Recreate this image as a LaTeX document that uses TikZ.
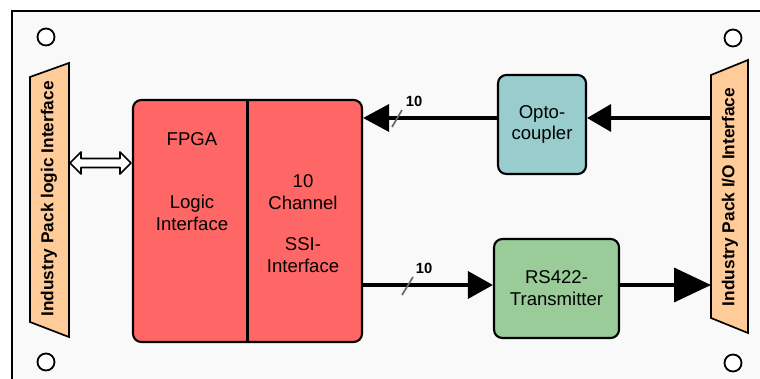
\documentclass[tikz,border=0pt]{standalone}
\usepackage{fontspec}
\setmainfont{Liberation Sans}
\usetikzlibrary{arrows.meta,calc}

\definecolor{fpgared}{HTML}{FF6666}
\definecolor{optoblue}{HTML}{99CCCC}
\definecolor{rsgreen}{HTML}{99CC99}
\definecolor{ifpeach}{HTML}{FFCC99}
\definecolor{boardgray}{HTML}{F9F9F9}

\tikzset{
  block/.style={draw=black,line width=1.5pt,rounded corners=6pt,inner sep=0pt},
  blocktext/.style={align=center,font=\fontsize{13.2}{15.5}\selectfont},
  sidetext/.style={rotate=90,font=\fontsize{12.3}{14}\selectfont\bfseries},
  bus/.style={line width=2.5pt},
  hole/.style={draw=black,line width=1.3pt,fill=white},
  buswidth/.style={font=\fontsize{10.5}{12}\selectfont\bfseries,inner sep=1pt},
  slash/.style={draw=black!60,line width=1.2pt}
}

\begin{document}
\begin{tikzpicture}[x=0.025cm,y=-0.025cm]

\useasboundingbox (0,0) rectangle (760,379);
\clip (0,0) rectangle (760,379);

% board
\fill[white] (0,0) rectangle (760,379);
\draw[draw=black,line width=1.4pt,fill=boardgray] (12,11) rectangle (800,420);

\draw[hole] (46,37) circle (8.5);
\draw[hole] (46,362) circle (8.5);
\draw[hole] (733,38) circle (8.5);
\draw[hole] (733,363) circle (8.5);

% interfaces
\draw[draw=black,line width=1.2pt,fill=ifpeach] (30,77) -- (69,63) -- (69,337) -- (30,322) -- cycle;
\draw[draw=black,line width=1.2pt,fill=ifpeach] (711,75) -- (748,60) -- (748,333) -- (711,318) -- cycle;
\node[sidetext] (logicif) at (49,199) {Industry Pack logic Interface};
\node[sidetext] (ioif) at (730,197) {Industry Pack I/O Interface};
\coordinate (ioedge) at (711,118);
\coordinate (ioin) at (711,285);

% blocks
\node[block,fill=fpgared,minimum width=5.725cm,minimum height=6.05cm] (fpga) at (247.5,221) {};
\draw[line width=1.5pt] (fpga.north) -- (fpga.south);
\node[block,fill=optoblue,minimum width=2.2cm,minimum height=2.475cm] (opto) at (542,124.5) {};
\node[block,fill=rsgreen,minimum width=3.125cm,minimum height=2.475cm] (rs) at (556.5,288.5) {};

\node[blocktext] (fpgatitle) at (192,139) {FPGA};
\node[blocktext] (logictext) at (192,213) {Logic\\Interface};
\node[blocktext] (chantext) at (303,192) {10\\Channel};
\node[blocktext] (ssitext) at (303,255) {SSI-\\Interface};
\node[blocktext] (optotext) at (opto) {Opto-\\coupler};
\node[blocktext] (rstext) at (rs) {RS422-\\Transmitter};

% logic bus (hollow double arrow)
\coordinate (hostl) at (70,163);
\coordinate (hostr) at (131,163);
\draw[draw=black,line width=1.2pt,fill=white,line join=round]
  (hostl) -- ++(11,-11) -- ++(0,6.5) -- ($(hostr)+(-11,-4.5)$) -- ++(0,-6.5) -- (hostr)
  -- ++(-11,11) -- ++(0,-6.5) -- ($(hostl)+(11,4.5)$) -- ++(0,6.5) -- cycle;

% input path
\draw[bus,-{Triangle[length=0.6cm,width=0.675cm]}] (ioedge) -- (opto.east |- ioedge);
\draw[bus,-{Triangle[length=0.65cm,width=0.675cm]}] (opto.west |- ioedge) -- (fpga.east |- ioedge);
\draw[slash] (392,127) -- (402,110);
\node[buswidth] (inwidth) at (414,101) {10};

% output path
\coordinate (outrow) at (0,285);
\draw[bus,-{Triangle[length=0.625cm,width=0.675cm]}] (fpga.east |- outrow) -- (rs.west |- outrow);
\draw[bus,-{Triangle[length=0.925cm,width=0.85cm]}] (rs.east |- outrow) -- (ioin);
\draw[slash] (402,295) -- (413,277);
\node[buswidth] (outwidth) at (424,268) {10};

\end{tikzpicture}
\end{document}
